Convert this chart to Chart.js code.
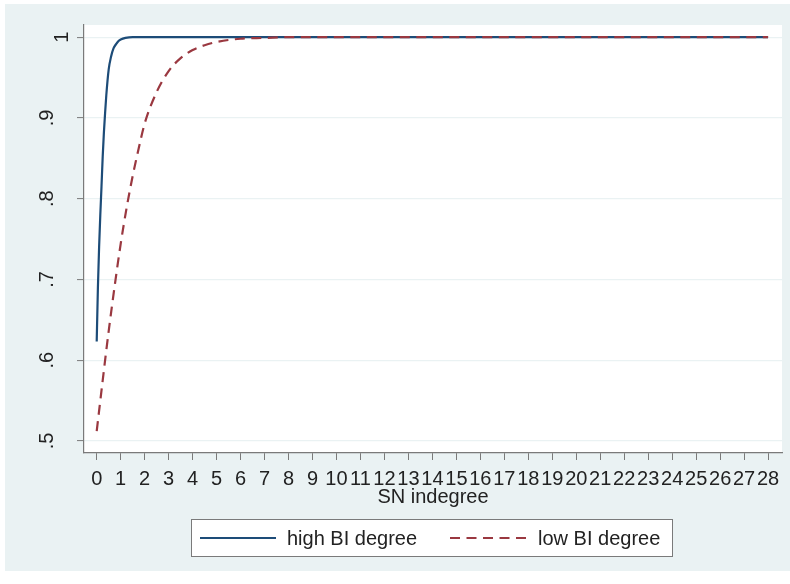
<!DOCTYPE html>
<html>
<head>
<meta charset="utf-8">
<script src="https://cdn.jsdelivr.net/npm/chart.js@4.4.1/dist/chart.umd.min.js"></script>
<style>
  html, body { margin: 0; padding: 0; background: #fff; }
  #wrap { width: 790px; height: 584px; }
</style>
</head>
<body>
<div id="wrap"><canvas id="curveChart" width="790" height="584"></canvas></div>
<script>
// valores
const seriesNames = ['high BI degree', 'low BI degree'];

const highX = [0, 0.05, 0.1, 0.15, 0.2, 0.25, 0.3, 0.35, 0.4, 0.5, 0.6, 0.7, 0.8, 0.9, 1, 1.2, 1.5,
  2, 3, 4, 5, 6, 7, 8, 9, 10, 11, 12, 13, 14, 15, 16, 17, 18, 19, 20, 21, 22, 23, 24, 25, 26, 27, 28];
const highY = [0.623, 0.69, 0.74, 0.78, 0.815, 0.852, 0.882, 0.906, 0.928, 0.96, 0.976, 0.986, 0.991, 0.995, 0.997, 0.999, 1,
  1, 1, 1, 1, 1, 1, 1, 1, 1, 1, 1, 1, 1, 1, 1, 1, 1, 1, 1, 1, 1, 1, 1, 1, 1, 1, 1];

const lowX = [0, 0.25, 0.5, 0.75, 1, 1.25, 1.5, 1.75, 2, 2.5, 3, 3.5, 4, 4.5, 5, 6, 7,
  8, 9, 10, 11, 12, 13, 14, 15, 16, 17, 18, 19, 20, 21, 22, 23, 24, 25, 26, 27, 28];
const lowY = [0.512, 0.575, 0.636, 0.692, 0.744, 0.789, 0.828, 0.862, 0.893, 0.932, 0.958, 0.974, 0.984, 0.99, 0.994, 0.998, 0.999,
  1, 1, 1, 1, 1, 1, 1, 1, 1, 1, 1, 1, 1, 1, 1, 1, 1, 1, 1, 1, 1];

const xTicks = [0, 1, 2, 3, 4, 5, 6, 7, 8, 9, 10, 11, 12, 13, 14, 15, 16, 17, 18, 19, 20, 21, 22, 23, 24, 25, 26, 27, 28];
const yTicks = [0.5, 0.6, 0.7, 0.8, 0.9, 1];
const yTickLabels = ['.5', '.6', '.7', '.8', '.9', '1'];

const BLUE = '#1d4c78';
const RED = '#9a3840';
const BG = '#eaf2f3';
const AXIS = '#7a7a7a';
const FONT = '"Liberation Sans", Arial, sans-serif';
const DASH = [10, 6.5];

const toPoints = (xs, ys) => xs.map((x, i) => ({ x: x, y: ys[i] }));

// fondo estilo stata
const fondo = {
  id: 'fondo',
  beforeDraw(chart) {
    const c = chart.ctx, a = chart.chartArea;
    c.save();
    c.fillStyle = '#fff';
    c.fillRect(0, 0, chart.width, chart.height);
    c.fillStyle = BG;
    c.fillRect(5, 4, 785, 567);
    c.fillStyle = '#fff';
    c.fillRect(a.left, a.top, a.right - a.left, a.bottom - a.top);
    c.restore();
  }
};

// etiquetas del eje y giradas + leyenda con marco
const extras = {
  id: 'extras',
  afterDraw(chart) {
    const c = chart.ctx;
    const y = chart.scales.y;
    c.save();
    c.fillStyle = '#222';
    c.font = '20px ' + FONT;
    c.textAlign = 'center';
    c.textBaseline = 'alphabetic';
    yTicks.forEach((v, i) => {
      const lbl = yTickLabels[i];
      const px = lbl.length > 1 ? 53 : 68;
      c.save();
      c.translate(px, y.getPixelForValue(v));
      c.rotate(-Math.PI / 2);
      c.fillText(lbl, 0, 0);
      c.restore();
    });

    // leyenda
    c.fillStyle = '#fff';
    c.fillRect(191, 519, 482, 38);
    c.strokeStyle = AXIS;
    c.lineWidth = 1;
    c.strokeRect(191.5, 519.5, 481, 37);
    const ds = chart.data.datasets;
    const items = [{ x: 200, tx: 287 }, { x: 450, tx: 538 }];
    items.forEach((it, i) => {
      c.beginPath();
      c.strokeStyle = ds[i].borderColor;
      c.lineWidth = ds[i].borderWidth;
      c.setLineDash(ds[i].borderDash || []);
      c.moveTo(it.x, 538);
      c.lineTo(it.x + 76, 538);
      c.stroke();
      c.setLineDash([]);
      c.fillStyle = '#222';
      c.textAlign = 'left';
      c.textBaseline = 'middle';
      c.fillText(ds[i].label, it.tx, 539);
    });
    c.restore();
  }
};

new Chart(document.getElementById('curveChart').getContext('2d'), {
  type: 'line',
  data: {
    datasets: [{
      label: seriesNames[0],
      data: toPoints(highX, highY),
      borderColor: BLUE,
      borderWidth: 2.2,
      pointRadius: 0,
      cubicInterpolationMode: 'monotone',
      fill: false,
      order: 1
    }, {
      label: seriesNames[1],
      data: toPoints(lowX, lowY),
      borderColor: RED,
      borderWidth: 2.2,
      borderDash: DASH,
      pointRadius: 0,
      cubicInterpolationMode: 'monotone',
      fill: false,
      order: 0
    }]
  },
  options: {
    responsive: false,
    animation: false,
    layout: { padding: { left: 0, right: 8, top: 25, bottom: 75 } },
    plugins: {
      legend: { display: false },
      tooltip: { enabled: false }
    },
    scales: {
      x: {
        type: 'linear',
        min: -0.53,
        max: 28.58,
        afterBuildTicks: s => { s.ticks = xTicks.map(v => ({ value: v })); },
        afterFit: s => { s.height = 56; },
        grid: { drawOnChartArea: false, tickLength: 7, tickColor: AXIS, tickWidth: 1 },
        border: { color: AXIS, width: 1.2 },
        ticks: {
          autoSkip: false,
          maxRotation: 0,
          minRotation: 0,
          padding: 7,
          color: '#222',
          font: { family: FONT, size: 20 },
          callback: v => String(v)
        },
        title: {
          display: true,
          text: 'SN indegree',
          color: '#222',
          font: { family: FONT, size: 20 },
          padding: { top: 0, bottom: 0 }
        }
      },
      y: {
        type: 'linear',
        min: 0.485,
        max: 1.015,
        afterBuildTicks: s => { s.ticks = yTicks.map(v => ({ value: v })); },
        afterFit: s => { s.width = 84; },
        grid: { color: BG, lineWidth: 1.2, tickLength: 7, tickColor: AXIS, tickWidth: 1 },
        border: { color: AXIS, width: 1.2 },
        ticks: { display: false }
      }
    }
  },
  plugins: [fondo, extras]
});
</script>
</body>
</html>
